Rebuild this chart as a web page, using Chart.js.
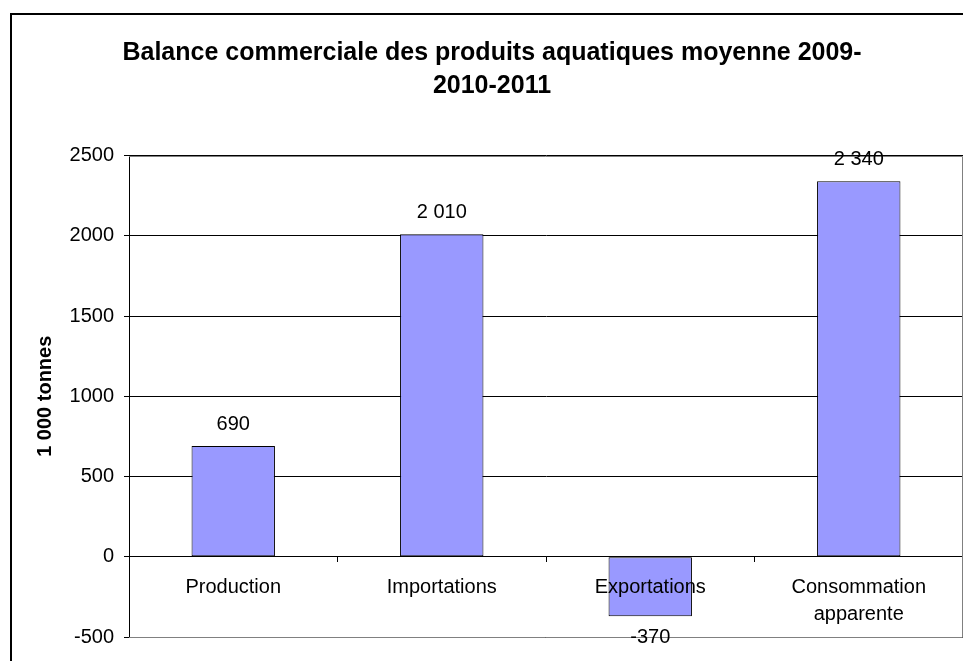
<!DOCTYPE html>
<html>
<head>
<meta charset="utf-8">
<script src="https://cdn.jsdelivr.net/npm/chart.js@4.4.1/dist/chart.umd.min.js"></script>
<style>
  html, body { margin: 0; padding: 0; background: #fff; overflow: hidden; }
  #frame { position: absolute; left: 10px; top: 13px; width: 1000px; height: 700px; border: 2px solid #000; }
  #myChart { position: absolute; left: 0; top: 0; }
</style>
</head>
<body>
<div id="frame"></div>
<canvas id="myChart" width="963" height="661"></canvas>
<script>
var categories = ['Production', 'Importations', 'Exportations', ['Consommation', 'apparente']];
var volumes = [690, 2010, -370, 2340];
var yTicks = [-500, 0, 500, 1000, 1500, 2000, 2500];
var titleLines = ['Balance commerciale des produits aquatiques moyenne 2009-', '2010-2011'];
var yTitle = '1 000 tonnes';

Chart.defaults.font.family = "'Liberation Sans', Arial, sans-serif";
Chart.defaults.color = '#000';

function spaced(v) {
  return String(v).replace(/\B(?=(\d{3})+(?!\d))/g, ' ');
}

// gray frame round the plot area (top, right, bottom)
var plotBorder = {
  id: 'plotBorder',
  beforeDatasetsDraw: function(chart) {
    var a = chart.chartArea, ctx = chart.ctx;
    ctx.save();
    ctx.strokeStyle = '#808080';
    ctx.lineWidth = 1;
    ctx.beginPath();
    ctx.moveTo(a.left, Math.round(a.top) + 0.5);
    ctx.lineTo(Math.round(a.right) - 0.5, Math.round(a.top) + 0.5);
    ctx.lineTo(Math.round(a.right) - 0.5, Math.round(a.bottom) + 0.5);
    ctx.lineTo(a.left, Math.round(a.bottom) + 0.5);
    ctx.stroke();
    ctx.restore();
  }
};

// value labels above (or below) each bar
var barLabels = {
  id: 'barLabels',
  afterDatasetsDraw: function(chart) {
    var ctx = chart.ctx;
    var meta = chart.getDatasetMeta(0);
    ctx.save();
    ctx.font = "20px 'Liberation Sans', Arial, sans-serif";
    ctx.fillStyle = '#000';
    ctx.textAlign = 'center';
    ctx.textBaseline = 'middle';
    meta.data.forEach(function(bar, i) {
      var v = volumes[i];
      var y = v >= 0 ? bar.y - 22 : bar.y + 21;
      ctx.fillText(spaced(v), bar.x, y);
    });
    ctx.restore();
  }
};

var ctx = document.getElementById('myChart').getContext('2d');
var myChart = new Chart(ctx, {
  type: 'bar',
  data: {
    labels: categories,
    datasets: [{
      label: yTitle,
      data: volumes,
      backgroundColor: '#9999ff',
      borderColor: '#000',
      borderWidth: 1,
      borderSkipped: false,
      barPercentage: 0.4,
      categoryPercentage: 1
    }]
  },
  options: {
    responsive: false,
    animation: false,
    layout: { padding: { left: 21, right: 0, top: 0, bottom: 24 } },
    plugins: {
      legend: { display: false },
      tooltip: { enabled: false },
      title: {
        display: true,
        text: titleLines,
        font: { size: 25, weight: 'bold', lineHeight: 1.33 },
        color: '#000',
        padding: { top: 36, bottom: 53 }
      }
    },
    scales: {
      x: {
        position: { y: 0 },
        offset: true,
        grid: { drawOnChartArea: false, tickLength: 5, color: '#000' },
        border: { display: true, color: '#000', width: 1 },
        ticks: {
          z: 1,
          font: { size: 20, lineHeight: 1.35 },
          color: '#000',
          padding: 12,
          maxRotation: 0,
          autoSkip: false
        }
      },
      y: {
        min: -500,
        max: 2500,
        afterBuildTicks: function(scale) {
          scale.ticks = yTicks.map(function(v) { return { value: v }; });
        },
        afterFit: function(scale) { scale.width = 108; },
        grid: { color: '#000', tickLength: 5, tickColor: '#000' },
        border: { display: true, color: '#000', width: 1 },
        ticks: {
          font: { size: 20 },
          color: '#000',
          padding: 10,
          callback: function(v) { return String(v); }
        },
        title: {
          display: true,
          text: yTitle,
          font: { size: 20, weight: 'bold', lineHeight: 1.2 },
          color: '#000',
          padding: { top: 12, bottom: 0 }
        }
      }
    }
  },
  plugins: [plotBorder, barLabels]
});
</script>
</body>
</html>
